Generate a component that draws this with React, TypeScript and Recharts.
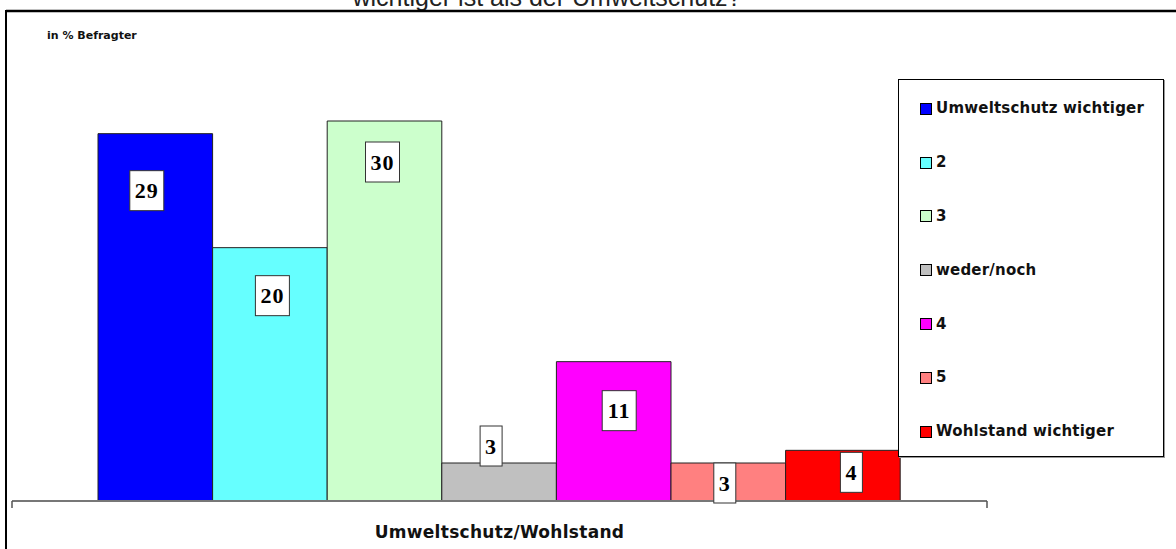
import React from 'react';
import { BarChart, Bar, XAxis, YAxis, Legend, LabelList } from 'recharts';

const categories = ['Umweltschutz/Wohlstand'];
const seriesNames = ['Umweltschutz wichtiger', '2', '3', 'weder/noch', '4', '5', 'Wohlstand wichtiger'];
const seriesValues = [29, 20, 30, 3, 11, 3, 4];
const seriesColors = ['#0000ff', '#66ffff', '#ccffcc', '#c0c0c0', '#ff00ff', '#ff8080', '#ff0000'];
const yDomain: [number, number] = [0, 30];

const titleLine = 'wichtiger ist als der Umweltschutz?';
const unitLabel = 'in % Befragter';

const W = 1176;
const H = 549;
const MARGIN = { top: 121, right: 189, bottom: 8, left: 12 };
const XAXIS_H = 40;
const AXIS_Y = H - MARGIN.bottom - XAXIS_H;

// hand placed value boxes, like the original sheet
const labelNudge = [
  { dx: -8.5, dy: 57 },
  { dx: 2.5, dy: 48 },
  { dx: -2, dy: 41 },
  { dx: -8, dy: -17 },
  { dx: 5.5, dy: 49 },
  { dx: -3.5, dy: 20 },
  { dx: 8.5, dy: 22 },
];

const chartData = categories.map((name) => {
  const row: Record<string, string | number> = { name };
  seriesValues.forEach((v, i) => {
    row[`s${i}`] = v;
  });
  return row;
});

const makeLabel = (i: number) => (props: any) => {
  const { x, y, width, value } = props;
  const cx = Number(x) + Number(width) / 2 + labelNudge[i].dx;
  const cy = Number(y) + labelNudge[i].dy;
  const text = String(value);
  const w = text.length * 12 + 10;
  const h = 40;
  return (
    <g>
      <rect x={cx - w / 2} y={cy - h / 2} width={w} height={h} fill="#fff" stroke="#333" strokeWidth={1} />
      <text
        x={cx}
        y={cy + 7.5}
        textAnchor="middle"
        fontFamily="'Liberation Serif', 'Times New Roman', serif"
        fontWeight="bold"
        fontSize={22}
        letterSpacing={1}
        fill="#000"
      >
        {text}
      </text>
    </g>
  );
};

const renderCategoryTick = (props: any) => {
  const { x, payload } = props;
  return (
    <g>
      <text
        x={x}
        y={AXIS_Y + 37}
        textAnchor="middle"
        fontFamily="'DejaVu Sans', sans-serif"
        fontWeight="bold"
        fontSize={17}
        letterSpacing={0.3}
        fill="#111"
      >
        {payload.value}
      </text>
      <line x1={MARGIN.left} y1={AXIS_Y} x2={MARGIN.left} y2={AXIS_Y + 7} stroke="#555" strokeWidth={1.5} />
      <line x1={W - MARGIN.right} y1={AXIS_Y} x2={W - MARGIN.right} y2={AXIS_Y + 7} stroke="#555" strokeWidth={1.5} />
    </g>
  );
};

const renderLegend = (props: any) => {
  const items = [...(props.payload || [])].sort(
    (a: any, b: any) => seriesNames.indexOf(a.value) - seriesNames.indexOf(b.value)
  );
  return (
    <div
      style={{
        boxSizing: 'border-box',
        width: 266,
        height: 378,
        border: '1px solid #000',
        boxShadow: '1px 1px 0 #999',
        background: '#fff',
        paddingTop: 2,
        paddingLeft: 21,
      }}
    >
      {items.map((entry: any) => (
        <div key={entry.value} style={{ height: 53.8, display: 'flex', alignItems: 'center' }}>
          <span
            style={{
              display: 'inline-block',
              boxSizing: 'border-box',
              width: 12,
              height: 12,
              border: '1px solid #000',
              background: entry.color,
              marginRight: 4,
              flexShrink: 0,
            }}
          />
          <span
            style={{
              fontFamily: "'DejaVu Sans', sans-serif",
              fontWeight: 'bold',
              fontSize: 15,
              lineHeight: '15px',
              letterSpacing: 0.2,
              color: '#111',
              whiteSpace: 'nowrap',
            }}
          >
            {entry.value}
          </span>
        </div>
      ))}
    </div>
  );
};

export default function App() {
  return (
    <div style={{ position: 'absolute', left: 0, top: 0, width: W, height: H, overflow: 'hidden', background: '#fff' }}>
      <BarChart width={W} height={H} data={chartData} margin={MARGIN} barSize={114.6} barGap={0}>
        <YAxis hide domain={yDomain} />
        <XAxis
          dataKey="name"
          height={XAXIS_H}
          axisLine={{ stroke: '#777', strokeWidth: 2 }}
          tickLine={false}
          tick={renderCategoryTick}
          interval={0}
        />
        <Legend
          layout="horizontal"
          verticalAlign="middle"
          align="center"
          content={renderLegend}
          wrapperStyle={{ left: 898, top: 79, width: 266, height: 378 }}
        />
        {seriesNames.map((name, i) => (
          <Bar
            key={name}
            dataKey={`s${i}`}
            name={name}
            fill={seriesColors[i]}
            stroke="#222"
            strokeWidth={1}
            isAnimationActive={false}
          >
            <LabelList dataKey={`s${i}`} content={makeLabel(i)} />
          </Bar>
        ))}
      </BarChart>
      <svg width={W} height={H} style={{ position: 'absolute', left: 0, top: 0, pointerEvents: 'none' }}>
        <text
          x={547}
          y={6}
          textAnchor="middle"
          fontFamily="'Liberation Sans', Arial, sans-serif"
          fontSize={25}
          fill="#222"
        >
          {titleLine}
        </text>
        <line x1={6} y1={11} x2={W} y2={11} stroke="#000" strokeWidth={2.5} />
        <line x1={6} y1={10} x2={6} y2={H} stroke="#000" strokeWidth={2} />
        <text x={47} y={39} fontFamily="'DejaVu Sans', sans-serif" fontWeight="bold" fontSize={11} fill="#111">
          {unitLabel}
        </text>
      </svg>
    </div>
  );
}
